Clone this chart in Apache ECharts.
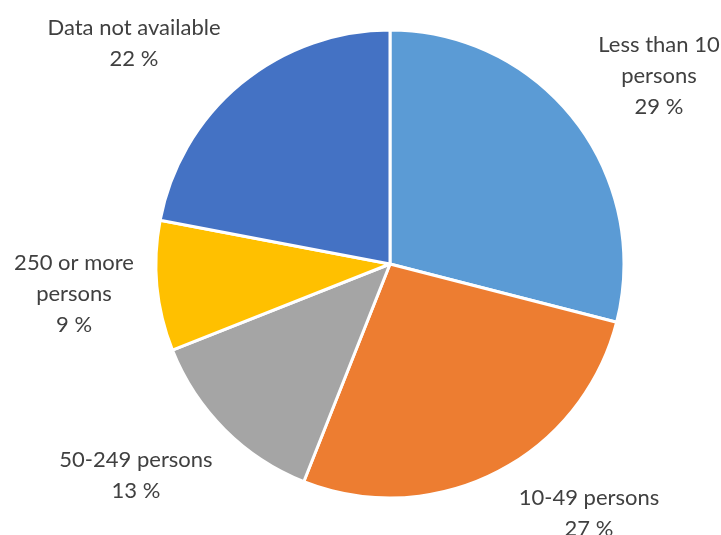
<!DOCTYPE html>
<html>
<head>
<meta charset="utf-8">
<script src="https://cdn.jsdelivr.net/npm/echarts@6/dist/echarts.min.js"></script>
<style>
  html, body { margin: 0; padding: 0; background: #ffffff; }
  #chart { width: 721px; height: 535px; }
</style>
</head>
<body>
<div id="chart"></div>
<script>
// Enterprise size classes and their shares (%)
const categories = [
  'Less than 10\npersons',
  '10-49 persons',
  '50-249 persons',
  '250 or more\npersons',
  'Data not available'
];
const shares = [29, 27, 13, 9, 22];
const sliceColors = ['#5B9BD5', '#ED7D31', '#A5A5A5', '#FFC000', '#4472C4'];

// Label anchor points (centre of each text block), in pixels
const labelAnchors = [
  [659, 76],
  [589, 513],
  [136, 475],
  [74, 294],
  [134, 43]
];

const chart = echarts.init(document.getElementById('chart'), null, { renderer: 'canvas' });

chart.setOption({
  animation: false,
  backgroundColor: '#ffffff',
  series: [{
    type: 'pie',
    center: [390, 264],
    radius: 234,
    startAngle: 90,
    clockwise: true,
    avoidLabelOverlap: false,
    data: categories.map((name, i) => ({
      name: name,
      value: shares[i],
      itemStyle: { color: sliceColors[i] }
    })),
    itemStyle: { borderColor: '#ffffff', borderWidth: 3 },
    label: {
      show: true,
      position: 'outside',
      formatter: '{b}\n{c} %',
      fontFamily: 'Lato',
      fontSize: 22,
      lineHeight: 31,
      color: '#404040',
      align: 'center'
    },
    labelLine: { show: false },
    labelLayout: function (params) {
      const p = labelAnchors[params.dataIndex];
      return { x: p[0], y: p[1], align: 'center', verticalAlign: 'middle' };
    },
    emphasis: { disabled: true }
  }]
});
</script>
</body>
</html>
